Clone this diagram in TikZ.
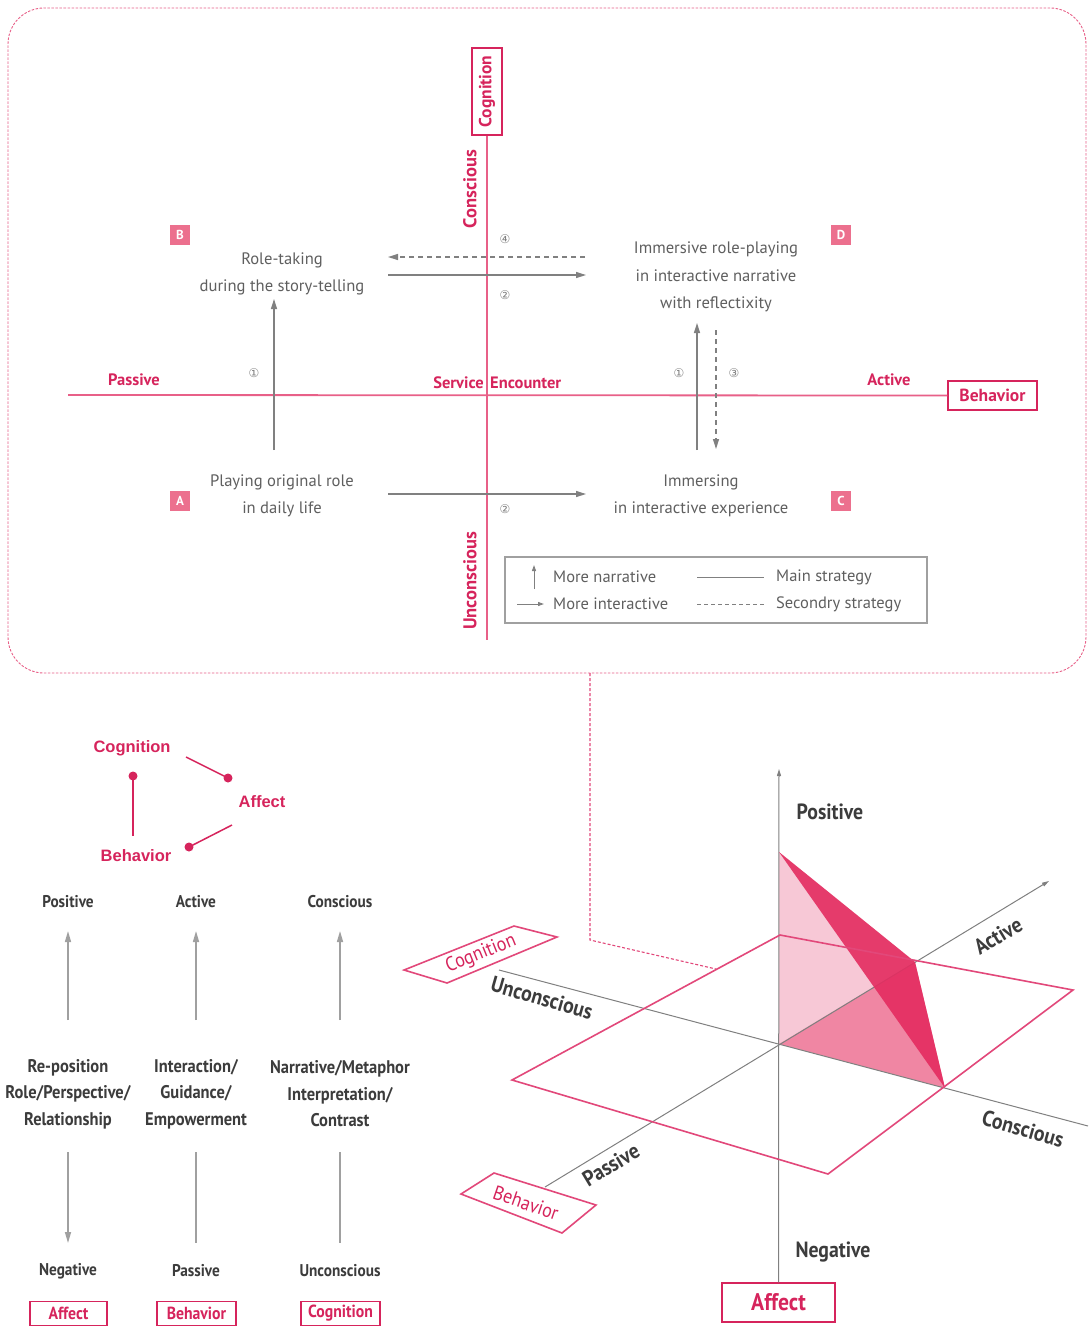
\documentclass[tikz,border=0pt]{standalone}
\usepackage{fontspec}
\setmainfont{PT Sans}
\newfontfamily\symfont{DejaVu Sans}
\newfontfamily\condfont{PT Sans}[FakeStretch=0.9]
\newfontfamily\triadfont{Liberation Sans}
\usetikzlibrary{arrows.meta,calc}
\definecolor{pinkc}{RGB}{232,96,136}
\definecolor{redc}{RGB}{214,36,92}
\definecolor{boxpink}{RGB}{236,112,142}
\definecolor{arrgray}{RGB}{128,128,128}
\definecolor{ltgray}{RGB}{160,160,160}
\definecolor{txtgray}{RGB}{95,95,95}
\definecolor{darktxt}{RGB}{60,60,60}
\definecolor{lightpink}{RGB}{247,200,214}
\definecolor{midpink}{RGB}{240,134,163}
\definecolor{darkpink}{RGB}{228,44,96}
\definecolor{planec}{RGB}{226,72,122}
\tikzset{
  framebox/.style={draw=pinkc, line width=0.9pt, dash pattern=on 2.5pt off 1.5pt, rounded corners=36pt},
  pinkline/.style={draw=pinkc, line width=1.8pt},
  grayarrow/.style={draw=arrgray, line width=1.4pt, -{Triangle[length=10pt,width=6pt]}},
  dashedline/.style={dash pattern=on 5pt off 4pt},
  topt/.style={text=txtgray, font=\fontsize{16.6}{27.5}\selectfont, align=center, inner sep=0pt},
  redlab/.style={text=redc, font=\bfseries\fontsize{16.5}{18}\selectfont, inner sep=0pt},
  vredlab/.style={text=redc, font=\bfseries\fontsize{18.5}{20}\selectfont, inner sep=0pt},
  letterbox/.style={fill=boxpink, text=white, minimum size=20pt, inner sep=0pt, font=\bfseries\fontsize{13}{13}\selectfont},
  circnum/.style={text=arrgray, font=\symfont\fontsize{12}{12}\selectfont, inner sep=0pt},
  redbox/.style={draw=redc, line width=1.3pt, fill=white, text=redc, inner sep=0pt, font=\bfseries\fontsize{17.5}{18}\selectfont},
  legt/.style={text=txtgray, font=\fontsize{16.5}{17}\selectfont, inner sep=0pt},
  colhead/.style={text=darktxt, font=\bfseries\condfont\fontsize{17}{18}\selectfont, inner sep=0pt},
  coltext/.style={text=darktxt, font=\bfseries\condfont\fontsize{18.3}{26.5}\selectfont, align=center, inner sep=0pt},
  colarrow/.style={draw=ltgray, line width=1.5pt, -{Triangle[length=11pt,width=6pt]}},
  colline/.style={draw=ltgray, line width=1.5pt},
  smallredbox/.style={draw=redc, line width=1.2pt, text=redc, inner sep=0pt, minimum height=24pt, font=\bfseries\condfont\fontsize{17.5}{18}\selectfont},
  triadt/.style={text=redc, font=\triadfont\bfseries\fontsize{16.5}{18}\selectfont, inner sep=0pt},
  triadline/.style={draw=redc, line width=1.5pt},
  dotc/.style={fill=redc},
  lab3d/.style={text=darktxt, font=\bfseries\condfont\fontsize{22}{24}\selectfont, inner sep=0pt},
  redlab3d/.style={text=redc, font=\condfont\fontsize{20}{22}\selectfont, inner sep=0pt},
  axis3d/.style={draw=arrgray, line width=1pt},
  plane/.style={draw=planec, line width=1.6pt, line join=miter},
}
\begin{document}
\begin{tikzpicture}[x=1pt,y=-1pt]
\useasboundingbox (0,0) rectangle (1088,1326);
\fill[white] (0,0) rectangle (1088,1326);

% ===== top panel =====
\node[framebox, minimum width=1078pt, minimum height=665pt] (frame) at (547,340.5) {};

\node[redbox, rotate=90, minimum width=87pt, minimum height=30pt] (cogT) at (487,91.5) {Cognition};
\node[redbox, minimum width=89pt, minimum height=29pt] (behT) at (992.5,395.5) {Behavior};
\coordinate (hL) at (68,395);
\coordinate (vB) at (487,640);
\draw[pinkline] (hL) -- (behT.west);
\draw[pinkline] (cogT.west) -- (vB);

\node[redlab] (passive) at (134,380) {Passive};
\node[redlab] (active) at (889,380) {Active};
\node[redlab, anchor=east] (service) at (484,383) {Service};
\node[redlab, anchor=west] (encounter) at (490,383) {Encounter};
\node[vredlab, rotate=90] (conscious) at (470,189) {Conscious};
\node[vredlab, rotate=90] (unconscious) at (470,581) {Unconscious};

\node[letterbox] (boxB) at (180,235) {B};
\node[letterbox] (boxD) at (841,235) {D};
\node[letterbox] (boxA) at (180,501) {A};
\node[letterbox] (boxC) at (841,501) {C};

\node[topt] (roleB) at (282,274) {Role-taking\\during the story-telling};
\node[topt] (roleD) at (716,277) {Immersive role-playing\\in interactive narrative\\with reflectixity};
\node[topt] (roleA) at (282,496) {Playing original role\\in daily life};
\node[topt] (roleC) at (701,496) {Immersing\\in interactive experience};

% strategy arrows
\coordinate (a4s) at (585,257); \coordinate (a4e) at (388,257);
\coordinate (a2s) at (388,275); \coordinate (a2e) at (586,275);
\coordinate (a1s) at (274,450); \coordinate (a1e) at (274,299);
\coordinate (b1s) at (697,450); \coordinate (b1e) at (697,323);
\coordinate (a3s) at (716,330); \coordinate (a3e) at (716,449);
\coordinate (b2s) at (388,494); \coordinate (b2e) at (586,494);
\draw[grayarrow, dashedline] (a4s) -- (a4e);
\draw[grayarrow] (a2s) -- (a2e);
\draw[grayarrow] (a1s) -- (a1e);
\draw[grayarrow] (b1s) -- (b1e);
\draw[grayarrow, dashedline] (a3s) -- (a3e);
\draw[grayarrow] (b2s) -- (b2e);
\node[circnum] (n4) at (505,239) {④};
\node[circnum] (n2a) at (505,295) {②};
\node[circnum] (n1a) at (254,373) {①};
\node[circnum] (n1b) at (679,373) {①};
\node[circnum] (n3) at (734,373) {③};
\node[circnum] (n2b) at (505,509) {②};

% legend
\node[draw=ltgray, line width=1.1pt, minimum width=422pt, minimum height=66pt] (legend) at (716,590) {};
\coordinate (lg1s) at (534,589); \coordinate (lg1e) at (534,565);
\coordinate (lg2s) at (517,604); \coordinate (lg2e) at (544,604);
\coordinate (lg3s) at (697,577); \coordinate (lg3e) at (764,577);
\coordinate (lg4s) at (697,604); \coordinate (lg4e) at (764,604);
\draw[draw=arrgray, line width=1pt, -{Triangle[length=6pt,width=4pt]}] (lg1s) -- (lg1e);
\draw[draw=arrgray, line width=1pt, -{Triangle[length=6pt,width=4pt]}] (lg2s) -- (lg2e);
\draw[draw=arrgray, line width=1pt] (lg3s) -- (lg3e);
\draw[draw=arrgray, line width=1pt, dash pattern=on 4pt off 3pt] (lg4s) -- (lg4e);
\node[legt, anchor=west] (lt1) at (553,577) {More narrative};
\node[legt, anchor=west] (lt2) at (553,604) {More interactive};
\node[legt, anchor=west] (lt3) at (776,577) {Main strategy};
\node[legt, anchor=west] (lt4) at (776,604) {Secondry strategy};

% ===== triad =====
\node[triadt] (tCog) at (132,748) {Cognition};
\node[triadt] (tAff) at (262,802) {Affect};
\node[triadt] (tBeh) at (136,856) {Behavior};
\coordinate (d1) at (133,776); \coordinate (d1e) at (133,836);
\coordinate (d2s) at (186,757); \coordinate (d2) at (228,778);
\coordinate (d3s) at (232,825); \coordinate (d3) at (189,847);
\draw[triadline] (d1) -- (d1e);
\draw[triadline] (d2s) -- (d2);
\draw[triadline] (d3s) -- (d3);
\fill[dotc] (d1) circle (4.5pt);
\fill[dotc] (d2) circle (4.5pt);
\fill[dotc] (d3) circle (4.5pt);

% ===== columns =====
\node[colhead] (posL) at (68,902) {Positive};
\node[colhead] (actL) at (196,902) {Active};
\node[colhead] (conL) at (340,902) {Conscious};
\node[coltext] (mid1) at (68,1094) {Re-position\\Role/Perspective/\\Relationship};
\node[coltext] (mid2) at (196,1094) {Interaction/\\Guidance/\\Empowerment};
\node[coltext] (mid3) at (340,1094) {Narrative/Metaphor\\Interpretation/\\Contrast};
\node[colhead] (negL) at (68,1271) {Negative};
\node[colhead] (pasL) at (196,1271) {Passive};
\node[colhead] (uncL) at (340,1271) {Unconscious};
\node[smallredbox, minimum width=77pt] (affS) at (68.5,1313.5) {Affect};
\node[smallredbox, minimum width=79pt] (behS) at (196.5,1313.5) {Behavior};
\node[smallredbox, minimum width=79pt] (cogS) at (340.5,1313.5) {Cognition};
\coordinate (c1s) at (68,1020); \coordinate (c1e) at (68,931);
\coordinate (c2s) at (196,1020); \coordinate (c2e) at (196,931);
\coordinate (c3s) at (340,1020); \coordinate (c3e) at (340,931);
\coordinate (e1s) at (68,1152); \coordinate (e1e) at (68,1243);
\coordinate (e2s) at (196,1152); \coordinate (e2e) at (196,1243);
\coordinate (e3s) at (340,1152); \coordinate (e3e) at (340,1243);
\draw[colarrow] (c1s) -- (c1e);
\draw[colarrow] (c2s) -- (c2e);
\draw[colarrow] (c3s) -- (c3e);
\draw[colarrow] (e1s) -- (e1e);
\draw[colline] (e2s) -- (e2e);
\draw[colline] (e3s) -- (e3e);

% ===== 3D part =====
\coordinate (O) at (779,1044);
\coordinate (P) at (779,852);
\coordinate (Ac) at (915,962);
\coordinate (Cc) at (945,1088);
\coordinate (vTop) at (779,769);
\coordinate (actS) at (545,1187); \coordinate (actE) at (1049,881);
\coordinate (conS) at (499,970); \coordinate (conE) at (1088,1126);
\coordinate (pT) at (780,935); \coordinate (pR) at (1073,990);
\coordinate (pB) at (828,1174); \coordinate (pL) at (512,1080);

\fill[lightpink] (O) -- (P) -- (Ac) -- cycle;
\fill[midpink] (O) -- (Ac) -- (Cc) -- cycle;

\node[draw=redc, line width=1.3pt, fill=white, minimum width=113pt, minimum height=39pt, inner sep=0pt, text=redc, font=\condfont\bfseries\fontsize{24}{24}\selectfont] (affBig) at (778.5,1302.5) {Affect};
\draw[axis3d, -{Triangle[length=7pt,width=4pt]}] (affBig.north) -- (vTop);
\draw[axis3d, -{Triangle[length=7pt,width=4pt]}] (actS) -- (actE);
\draw[axis3d] (conS) -- (conE);

\fill[darkpink, opacity=0.9] (P) -- (Ac) -- (Cc) -- cycle;
\draw[plane] (pT) -- (pR) -- (pB) -- (pL) -- cycle;

% dashed link from top panel
\coordinate (lk1) at (590,673); \coordinate (lk2) at (590,940); \coordinate (lk3) at (716,969);
\draw[draw=planec, line width=1.1pt, dash pattern=on 3pt off 2pt] (lk1) -- (lk2) -- (lk3);

% 3D label boxes
\coordinate (cb1) at (404,970); \coordinate (cb2) at (514,926);
\coordinate (cb3) at (557,937); \coordinate (cb4) at (447,983);
\draw[plane, fill=white] (cb1) -- (cb2) -- (cb3) -- (cb4) -- cycle;
\node[redlab3d, rotate=22] (cogB) at (481,954) {Cognition};
\coordinate (bb1) at (461,1194); \coordinate (bb2) at (494,1173);
\coordinate (bb3) at (596,1205); \coordinate (bb4) at (562,1233);
\draw[plane, fill=white] (bb1) -- (bb2) -- (bb3) -- (bb4) -- cycle;
\node[redlab3d, rotate=-19] (behB) at (526,1203) {Behavior};

\node[lab3d] (lPos) at (830,812) {Positive};
\node[lab3d] (lNeg) at (833,1252) {Negative};
\node[lab3d, rotate=31] (lAct) at (998,936) {Active};
\node[lab3d, rotate=-16] (lUnc) at (542,998) {Unconscious};
\node[lab3d, rotate=-16] (lCon) at (1023,1129) {Conscious};
\node[lab3d, rotate=31] (lPas) at (611,1165) {Passive};
\end{tikzpicture}
\end{document}
